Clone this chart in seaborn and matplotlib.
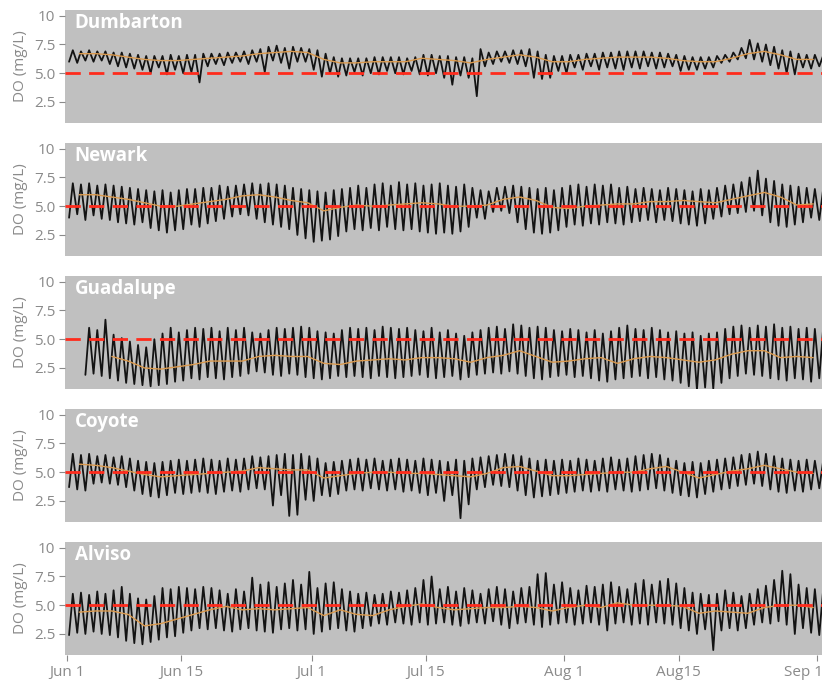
import numpy as np
import pandas as pd
import matplotlib
matplotlib.use('Agg')
import matplotlib.pyplot as plt
import matplotlib.transforms as mtransforms
import seaborn as sns

nan = np.nan

# Sites, top to bottom
sites = ['Dumbarton', 'Newark', 'Guadalupe', 'Coyote', 'Alviso']
start_date = '2018-06-01'

# daily max / min DO (mg/L), Jun 1 .. Sep 1
dumbarton_hi = [7.0, 6.9, 7.0, 6.9, 6.9, 6.8, 6.8, 6.7, 6.6, 6.5,
                6.5, 6.5, 6.6, 6.5, 6.6, 6.6, 6.7, 6.7, 6.7, 6.8,
                6.8, 6.9, 7.0, 7.1, 7.3, 7.4, 7.2, 7.3, 7.2, 7.1,
                7.0, 6.7, 6.4, 6.3, 6.3, 6.3, 6.3, 6.4, 6.4, 6.4,
                6.4, 6.3, 6.4, 6.6, 6.6, 6.5, 6.5, 6.4, 6.4, 6.3,
                7.1, 6.8, 6.9, 6.9, 7.0, 7.0, 7.1, 6.9, 6.6, 6.5,
                6.5, 6.6, 6.6, 6.7, 6.7, 6.8, 6.8, 6.9, 6.9, 6.9,
                6.9, 6.8, 6.8, 6.7, 6.6, 6.5, 6.4, 6.4, 6.4, 6.5,
                6.6, 6.8, 7.2, 7.9, 7.6, 7.5, 7.3, 7.0, 6.9, 6.7,
                6.6, 6.6, 6.5]
dumbarton_lo = [6.0, 5.9, 6.1, 6.0, 6.1, 5.8, 5.6, 5.5, 5.4, 5.3,
                5.0, 5.5, 4.9, 5.3, 5.0, 5.1, 4.2, 5.6, 5.8, 5.7,
                5.9, 6.0, 5.8, 6.0, 5.1, 6.1, 5.9, 5.4, 6.0, 6.0,
                5.3, 4.7, 5.0, 4.7, 4.8, 5.1, 4.8, 5.0, 4.9, 5.2,
                5.0, 4.9, 5.2, 4.9, 4.8, 5.0, 4.6, 4.0, 4.8, 4.6,
                3.0, 5.6, 5.8, 6.0, 5.9, 5.8, 5.6, 4.6, 4.5, 4.6,
                5.2, 5.0, 5.5, 5.3, 5.6, 5.3, 5.5, 5.4, 5.3, 5.5,
                5.4, 5.6, 5.4, 5.5, 5.6, 5.2, 5.3, 5.3, 5.4, 5.5,
                5.9, 6.0, 6.2, 6.3, 6.2, 6.0, 5.7, 5.4, 5.0, 4.9,
                5.5, 5.4, 5.6]

newark_hi = [7.0, 6.9, 7.0, 6.8, 6.9, 6.8, 6.7, 6.6, 6.5, 6.4,
             6.3, 6.4, 6.2, 6.4, 6.5, 6.5, 6.6, 6.6, 6.8, 6.7,
             6.8, 6.9, 7.0, 6.9, 7.0, 6.9, 6.8, 6.6, 6.5, 6.4,
             6.3, 6.2, 6.4, 6.5, 6.6, 6.8, 6.6, 6.9, 7.0, 6.8,
             7.1, 6.9, 7.0, 6.8, 6.9, 7.0, 6.8, 6.7, 6.9, 6.6,
             6.4, 6.3, 6.6, 6.7, 6.8, 6.7, 6.6, 6.5, 6.6, 6.4,
             6.6, 6.8, 6.9, 6.7, 6.9, 6.8, 6.9, 6.6, 6.7, 6.5,
             6.6, 6.5, 6.4, 6.6, 6.5, 6.4, 6.3, 6.5, 6.4, 6.6,
             6.8, 6.9, 7.1, 7.5, 8.1, 7.4, 7.2, 6.9, 6.8, 6.7,
             6.6, 6.5, 6.4]
newark_lo = [4.0, 4.3, 3.8, 4.2, 3.9, 3.8, 3.6, 3.5, 3.4, 3.6,
             3.1, 2.9, 2.7, 2.9, 3.0, 3.4, 3.2, 3.5, 3.7, 3.9,
             4.1, 4.3, 4.2, 3.9, 3.6, 3.4, 3.2, 3.0, 2.5, 2.2,
             1.9, 2.0, 2.1, 2.4, 2.8, 3.0, 2.9, 3.1, 2.9, 3.2,
             3.0, 2.9, 3.0, 2.8, 2.7, 2.6, 2.7, 2.6, 2.8, 3.2,
             4.0, 3.9, 4.5, 4.6, 4.4, 3.6, 3.0, 2.7, 2.6, 2.7,
             2.9, 3.2, 3.4, 3.3, 3.5, 3.4, 3.6, 3.5, 3.4, 3.6,
             3.7, 3.8, 3.6, 3.8, 3.7, 3.5, 3.4, 3.3, 3.5, 3.9,
             4.1, 4.3, 4.4, 4.5, 4.6, 4.2, 3.6, 3.3, 3.2, 3.4,
             3.6, 4.0, 3.8]

guadalupe_hi = [nan, nan, 6.0, 5.8, 6.7, 5.4, 5.1, 4.8, 4.5, 4.3,
                5.0, 5.5, 6.0, 5.6, 5.8, 6.0, 5.9, 6.0, 5.7, 6.0,
                5.8, 6.0, 5.6, 5.5, 5.8, 6.0, 5.9, 6.0, 6.1, 6.0,
                5.7, 5.6, 5.5, 5.8, 6.0, 5.9, 6.0, 5.8, 6.1, 6.0,
                5.9, 6.0, 5.8, 5.7, 6.0, 5.6, 5.8, 5.5, 5.3, 5.6,
                5.8, 6.0, 6.1, 5.9, 6.3, 6.2, 6.0, 6.1, 6.0, 5.8,
                5.7, 5.9, 5.8, 5.6, 5.8, 5.5, 5.7, 6.0, 6.2, 5.9,
                5.8, 6.0, 5.8, 5.6, 5.7, 5.5, 5.6, 5.3, 5.5, 5.6,
                5.9, 6.1, 6.2, 6.0, 6.2, 6.1, 6.3, 6.0, 6.1, 5.9,
                6.0, 5.9, 5.8]
guadalupe_lo = [nan, nan, 1.9, 2.0, 1.8, 1.6, 1.4, 1.2, 1.1, 1.0,
                0.9, 1.0, 1.1, 1.3, 1.4, 1.6, 1.5, 1.7, 1.6, 1.5,
                1.7, 1.8, 2.0, 2.2, 2.1, 1.9, 1.8, 2.0, 1.9, 1.7,
                1.6, 1.5, 1.6, 1.8, 1.7, 1.8, 1.7, 1.6, 1.8, 1.7,
                1.6, 1.7, 1.8, 1.9, 1.7, 1.6, 1.7, 1.8, 1.5, 1.7,
                1.9, 2.0, 2.1, 2.0, 2.2, 2.0, 1.8, 1.6, 1.5, 1.7,
                1.8, 1.9, 1.7, 1.8, 1.6, 1.4, 1.3, 1.5, 1.6, 1.7,
                1.8, 1.6, 1.7, 1.5, 1.4, 1.2, 0.9, 0.6, 0.8, 0.7,
                1.2, 1.6, 1.8, 2.0, 1.9, 1.8, 1.6, 1.5, 1.4, 1.6,
                1.5, 1.3, 1.6]

coyote_hi = [6.6, 6.5, 6.6, 6.4, 6.5, 6.3, 6.4, 6.2, 6.0, 5.9,
             5.8, 5.9, 6.0, 6.1, 6.0, 6.1, 6.2, 6.1, 6.0, 6.2,
             6.1, 6.2, 6.4, 6.3, 6.4, 6.5, 6.6, 6.5, 6.6, 6.4,
             6.2, 5.8, 5.9, 6.0, 6.1, 6.2, 6.1, 6.2, 6.0, 6.1,
             6.2, 6.1, 6.0, 6.2, 6.1, 6.0, 5.9, 6.1, 6.0, 6.2,
             6.3, 6.4, 6.5, 6.6, 6.5, 6.4, 6.2, 6.0, 6.1, 6.0,
             6.1, 6.0, 6.2, 6.1, 6.0, 6.2, 6.3, 6.1, 6.2, 6.4,
             6.5, 6.6, 6.5, 6.2, 6.0, 5.8, 5.9, 5.8, 6.0, 6.1,
             6.2, 6.3, 6.5, 6.6, 6.8, 6.6, 6.4, 6.2, 6.1, 6.0,
             6.1, 6.0, 5.9]
coyote_lo = [3.7, 3.5, 3.4, 4.0, 4.1, 4.0, 3.9, 3.7, 3.4, 3.1,
             2.9, 2.8, 3.0, 3.2, 3.1, 3.2, 3.3, 3.2, 3.1, 3.3,
             3.4, 3.3, 3.5, 3.6, 3.5, 2.1, 3.0, 1.2, 1.3, 2.6,
             2.5, 3.0, 2.9, 3.1, 3.4, 3.5, 3.4, 3.6, 3.5, 3.4,
             3.5, 3.3, 3.4, 3.2, 3.0, 3.2, 2.5, 3.0, 1.0, 2.2,
             3.5, 3.7, 3.9, 3.8, 3.7, 3.4, 3.0, 2.8, 2.9, 3.0,
             3.1, 3.2, 3.3, 3.4, 3.3, 3.4, 3.3, 3.5, 3.4, 3.3,
             3.4, 3.5, 3.6, 3.4, 3.2, 3.0, 2.9, 2.8, 3.1, 3.3,
             3.5, 3.6, 3.8, 3.9, 4.0, 3.8, 3.5, 3.3, 3.2, 3.4,
             3.3, 3.5, 3.6]

alviso_hi = [6.0, 6.1, 5.9, 6.2, 6.0, 6.3, 6.6, 6.0, 5.6, 5.5,
             5.8, 6.5, 6.4, 6.6, 6.5, 6.4, 6.6, 6.5, 6.3, 6.0,
             6.4, 6.2, 7.4, 6.8, 7.0, 6.6, 6.9, 7.2, 6.8, 7.9,
             6.5, 6.9, 7.0, 6.4, 6.2, 6.0, 6.1, 5.9, 6.0, 6.2,
             6.1, 6.3, 6.5, 7.2, 7.5, 6.4, 6.6, 6.2, 6.5, 6.3,
             6.0, 6.4, 6.6, 6.4, 6.2, 6.5, 6.6, 7.7, 7.8, 6.8,
             7.0, 6.5, 6.3, 6.7, 6.6, 6.8, 7.0, 6.6, 6.4, 6.9,
             7.2, 6.8, 7.1, 7.3, 6.9, 6.5, 6.1, 6.0, 5.9, 6.0,
             6.3, 6.1, 5.8, 6.0, 6.4, 6.7, 7.2, 8.0, 7.7, 6.8,
             6.5, 6.4, 6.2]
alviso_lo = [2.4, 2.6, 2.5, 2.7, 2.5, 2.4, 2.2, 1.9, 1.7, 1.6,
             1.8, 2.0, 2.2, 2.3, 2.6, 2.8, 3.0, 2.9, 3.0, 2.8,
             2.7, 2.9, 3.0, 2.8, 2.7, 2.6, 2.9, 3.0, 2.8, 2.9,
             2.5, 2.7, 2.9, 3.0, 2.8, 2.7, 3.0, 3.2, 3.4, 3.3,
             3.5, 3.4, 3.3, 3.5, 3.3, 3.4, 3.5, 3.3, 3.2, 3.4,
             3.5, 3.4, 3.6, 3.3, 3.0, 3.4, 3.5, 3.3, 3.1, 3.3,
             3.4, 3.5, 3.3, 3.4, 3.5, 3.3, 2.8, 3.4, 3.5, 3.3,
             3.4, 3.3, 3.5, 3.4, 3.3, 3.0, 2.8, 2.5, 2.9, 1.1,
             2.8, 3.0, 2.8, 3.0, 3.3, 3.5, 3.4, 3.6, 3.3, 2.5,
             3.0, 2.6, 2.4]

# smoothed trend (orange), every second day from Jun 2
dumbarton_trend = [6.7, 6.7, 6.6, 6.4, 6.2, 6.1, 6.1, 6.2, 6.3, 6.4, 6.5, 6.7, 6.8, 6.9, 6.8, 6.2,
                   5.9, 5.9, 6.0, 6.0, 6.0, 6.3, 6.2, 6.1, 5.9, 6.2,
                   6.4, 6.6, 6.4, 6.0, 6.0, 6.2, 6.3, 6.4, 6.4, 6.4,
                   6.3, 6.1, 6.0, 6.0, 6.3, 6.7, 6.9, 6.6, 6.2, 6.2]
newark_trend = [6.0, 6.0, 5.8, 5.6, 5.3, 5.0, 5.0, 5.2, 5.4, 5.6, 5.9, 6.0, 5.8, 5.5, 5.3, 4.6,
                4.9, 5.1, 5.0, 5.1, 5.2, 5.3, 5.2, 5.0, 5.0, 5.1,
                5.6, 5.8, 5.5, 4.9, 4.8, 5.0, 5.1, 5.2, 5.2, 5.4,
                5.4, 5.5, 5.4, 5.3, 5.6, 5.9, 6.2, 5.8, 5.1, 5.2]
guadalupe_trend = [nan, nan, 3.5, 3.1, 2.5, 2.4, 2.6, 2.8, 3.1, 3.1, 3.1, 3.5, 3.6, 3.5, 3.5, 2.9,
                   2.8, 3.1, 3.2, 3.3, 3.2, 3.4, 3.4, 3.3, 3.0, 3.4,
                   3.6, 4.0, 3.5, 3.0, 3.1, 3.3, 3.4, 2.9, 3.3, 3.5,
                   3.4, 3.2, 3.0, 3.2, 3.7, 4.0, 4.0, 3.4, 3.5, 3.4]
coyote_trend = [5.7, 5.6, 5.4, 5.1, 4.8, 4.6, 4.7, 4.8, 4.9, 5.0, 5.1, 5.4, 5.3, 5.2, 5.2, 4.5,
                4.7, 4.9, 5.0, 5.0, 4.9, 4.9, 4.8, 4.7, 4.6, 4.9,
                5.4, 5.5, 5.1, 4.7, 4.7, 4.8, 4.9, 5.0, 5.0, 5.3,
                5.5, 5.0, 4.5, 4.8, 5.1, 5.3, 5.6, 5.3, 5.0, 4.9]
alviso_trend = [4.4, 4.5, 4.5, 4.2, 3.2, 3.4, 3.8, 4.2, 4.6, 4.9, 4.6, 4.7, 4.6, 4.7, 4.8, 4.1,
                4.6, 4.2, 4.1, 4.6, 4.9, 5.1, 4.8, 4.6, 4.7, 4.8,
                4.8, 4.9, 4.8, 4.5, 4.8, 5.0, 4.8, 5.2, 5.0, 5.0,
                5.0, 4.9, 4.3, 4.5, 4.4, 4.3, 4.8, 5.0, 5.0, 4.8]

daily_hi = [dumbarton_hi, newark_hi, guadalupe_hi, coyote_hi, alviso_hi]
daily_lo = [dumbarton_lo, newark_lo, guadalupe_lo, coyote_lo, alviso_lo]
trends = [dumbarton_trend, newark_trend, guadalupe_trend, coyote_trend, alviso_trend]

do_threshold = 5.0
tick_dates = ['2018-06-01', '2018-06-15', '2018-07-01', '2018-07-15',
              '2018-08-01', '2018-08-15', '2018-09-01']
tick_labels = ['Jun 1', 'Jun 15', 'Jul 1', 'Jul 15', 'Aug 1', 'Aug15', 'Sep 1']
y_ticks = [2.5, 5.0, 7.5, 10]
y_tick_labels = ['2.5', '5.0', '7.5', '10']


def trace_frame(hi, lo):
    """Daily low at dawn, high in the afternoon -> one continuous trace."""
    days = pd.date_range(start_date, periods=len(hi), freq='D')
    df = pd.DataFrame({
        'time': np.concatenate([days + pd.Timedelta(hours=6),
                                days + pd.Timedelta(hours=17)]),
        'DO': np.concatenate([lo, hi]),
    })
    return df.sort_values('time').dropna()


def trend_frame(trend):
    days = pd.date_range('2018-06-02', periods=len(trend), freq='2D')
    return pd.DataFrame({'time': days + pd.Timedelta(hours=12), 'DO': trend}).dropna()


sns.set_style('white', {'axes.facecolor': '#C0C0C0'})
plt.rcParams['font.family'] = ['Open Sans', 'DejaVu Sans']
text_gray = '#8A8A8A'

fig, axes = plt.subplots(5, 1, figsize=(8.28, 6.85), dpi=100, sharex=True, sharey=True)
fig.subplots_adjust(left=65 / 828, right=822 / 828, top=1 - 10 / 685,
                    bottom=1 - 655 / 685, hspace=0.177)

for ax, site, hi, lo, trend in zip(axes, sites, daily_hi, daily_lo, trends):
    sns.lineplot(data=trace_frame(hi, lo), x='time', y='DO', ax=ax,
                 color='black', alpha=0.9, linewidth=1.3, estimator=None, sort=False)
    sns.lineplot(data=trend_frame(trend), x='time', y='DO', ax=ax,
                 color='#DB9A4E', linewidth=1.0, estimator=None)
    ax.axhline(do_threshold, color='#FF2B1C', linewidth=2.0, dashes=(5.5, 3.0))

    ax.text(0.013, 0.885, site, transform=ax.transAxes, color='white',
            fontsize=13.5, fontweight='bold', va='center', ha='left')

    ax.set_ylim(0.67, 10.5)
    ax.set_yticks(y_ticks)
    ax.set_yticklabels(y_tick_labels)
    ax.set_ylabel('DO (mg/L)', color=text_gray, fontsize=11, labelpad=4)
    ax.set_xlabel('')
    for s in ax.spines.values():
        s.set_visible(False)
    ax.tick_params(axis='both', colors=text_gray, labelsize=11, length=4,
                   width=0.8, left=True, bottom=True, pad=3)

axes[-1].set_xlim(pd.Timestamp('2018-06-01') - pd.Timedelta(hours=6),
                  pd.Timestamp('2018-09-01') + pd.Timedelta(hours=14))
axes[-1].set_xticks([pd.Timestamp(d) for d in tick_dates])
axes[-1].set_xticklabels(tick_labels)
for ax in axes[:-1]:
    ax.tick_params(axis='x', bottom=False)

# last label sits against the right edge, as in the original
last = axes[-1].get_xticklabels()[-1]
last.set_horizontalalignment('right')
last.set_transform(last.get_transform() +
                   mtransforms.ScaledTranslation(6 / 100, 0, fig.dpi_scale_trans))

fig.savefig('out.png', dpi=100)
